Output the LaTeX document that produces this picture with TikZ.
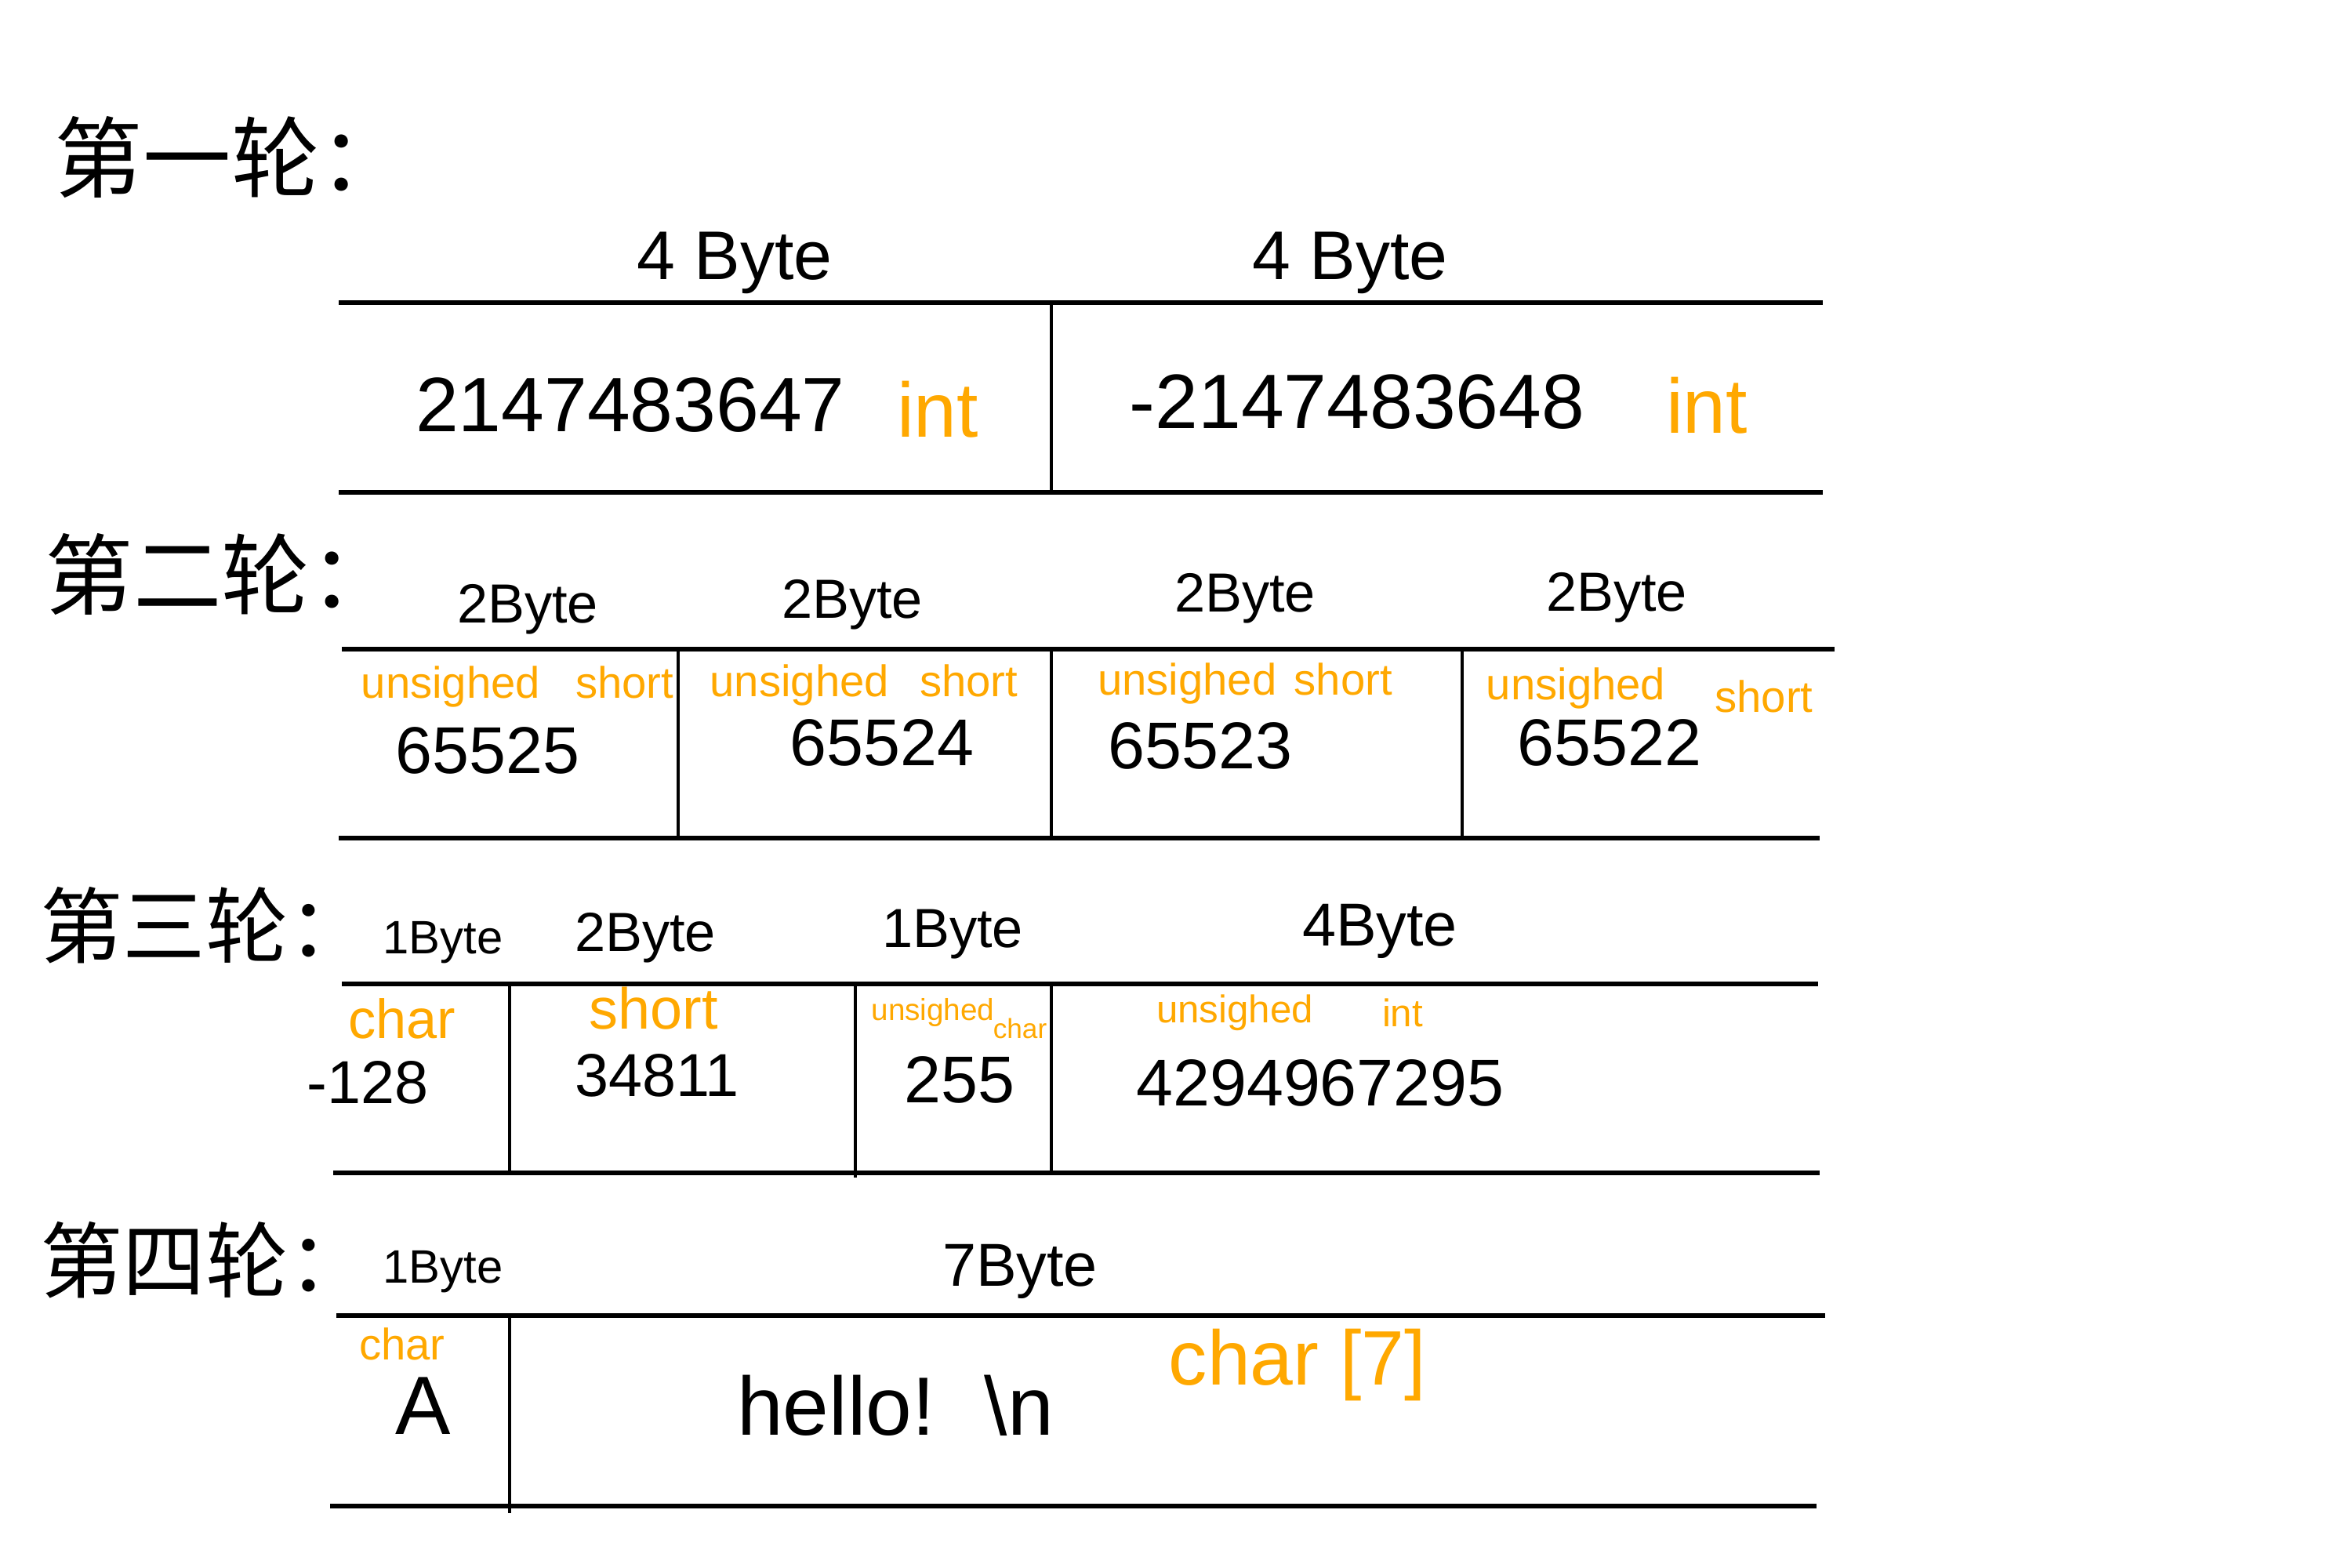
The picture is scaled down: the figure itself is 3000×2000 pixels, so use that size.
\documentclass[tikz,border=0pt]{standalone}
\usepackage{fontspec}
\setmainfont{Liberation Sans}
\newfontfamily\cjk{Noto Sans CJK SC}
\definecolor{handorange}{RGB}{255,168,0}
\tikzset{
  hline/.style={line width=1.8pt, black},
  vline/.style={line width=1pt, black},
  title/.style={font=\cjk\fontsize{32}{32}\selectfont, anchor=center},
  hdr/.style={font=\fontsize{20}{20}\selectfont},
  val/.style={font=\fontsize{24}{24}\selectfont},
  typ/.style={text=handorange, font=\fontsize{16}{16}\selectfont},
}
\begin{document}
\begin{tikzpicture}[x=0.01cm, y=-0.01cm, inner sep=0pt]
\useasboundingbox (0,0) rectangle (3000,2000);
\fill[white] (0,0) rectangle (3000,2000);

% ---------- Round 1 ----------
\node[title] (t1) at (295,201) {第一轮：};
\draw[hline] (432,386) -- (2325,386);
\draw[hline] (432,628) -- (2325,628);
\draw[vline] (1341,386) -- (1341,628);
\node[hdr, font=\fontsize{25}{25}\selectfont] (h11) at (937,335) {4 Byte};
\node[hdr, font=\fontsize{25}{25}\selectfont] (h12) at (1722,335) {4 Byte};
\node[val, font=\fontsize{28}{28}\selectfont] (v11) at (804,517) {2147483647};
\node[typ, font=\fontsize{28}{28}\selectfont] (y11) at (1196,522) {int};
\node[val, font=\fontsize{28}{28}\selectfont] (v12) at (1731,513) {-2147483648};
\node[typ, font=\fontsize{28}{28}\selectfont] (y12) at (2177,517) {int};

% ---------- Round 2 ----------
\node[title] (t2) at (283,733) {第二轮：};
\draw[hline] (436,828) -- (2340,828);
\draw[hline] (432,1069) -- (2321,1069);
\draw[vline] (865,828) -- (865,1069);
\draw[vline] (1341,828) -- (1341,1069);
\draw[vline] (1865,828) -- (1865,1072);
\node[hdr] (h21) at (673,777) {2Byte};
\node[hdr] (h22) at (1087,771) {2Byte};
\node[hdr] (h23) at (1588,763) {2Byte};
\node[hdr] (h24) at (2062,762) {2Byte};
\node[typ] (y21) at (660,876) {unsighed\hspace{0.8em}short};
\node[typ] (y22) at (1102,874) {unsighed\hspace{0.7em}short};
\node[typ] (y23) at (1588,872) {unsighed\hspace{0.4em}short};
\node[typ] (y24) at (2010,878) {unsighed};
\node[typ] (y24b) at (2250,888) {short};
\node[val] (v21) at (622,957) {65525};
\node[val] (v22) at (1125,947) {65524};
\node[val] (v23) at (1531,951) {65523};
\node[val] (v24) at (2053,947) {65522};

% ---------- Round 3 ----------
\node[title, font=\cjk\fontsize{30}{30}\selectfont] (t3) at (262,1180) {第三轮：};
\draw[hline] (436,1255) -- (2319,1255);
\draw[hline] (425,1496) -- (2321,1496);
\draw[vline] (650,1255) -- (650,1496);
\draw[vline] (1091,1255) -- (1091,1502);
\draw[vline] (1341,1255) -- (1341,1496);
\node[hdr, font=\fontsize{17}{17}\selectfont] (h31) at (565,1202) {1Byte};
\node[hdr] (h32) at (823,1196) {2Byte};
\node[hdr] (h33) at (1215,1192) {1Byte};
\node[hdr, font=\fontsize{22}{22}\selectfont] (h34) at (1760,1188) {4Byte};
\node[typ, font=\fontsize{20}{20}\selectfont] (y31) at (513,1299) {char};
\node[val, font=\fontsize{22}{22}\selectfont] (v31) at (469,1381) {-128};
\node[typ, font=\fontsize{21}{21}\selectfont] (y32) at (834,1286) {short};
\node[val, font=\fontsize{22}{22}\selectfont] (v32) at (838,1372) {34811};
\node[typ, font=\fontsize{11}{11}\selectfont] (y33) at (1190,1291) {unsighed};
\node[typ, font=\fontsize{10}{10}\selectfont] (y33b) at (1301,1312) {char};
\node[val] (v33) at (1224,1377) {255};
\node[typ, font=\fontsize{14}{14}\selectfont] (y34) at (1575,1292) {unsighed};
\node[typ, font=\fontsize{14}{14}\selectfont] (y34b) at (1789,1292) {int};
\node[val] (v34) at (1684,1381) {4294967295};

% ---------- Round 4 ----------
\node[title, font=\cjk\fontsize{30}{30}\selectfont] (t4) at (262,1607) {第四轮：};
\draw[hline] (429,1678) -- (2328,1678);
\draw[hline] (421,1921) -- (2317,1921);
\draw[vline] (650,1678) -- (650,1930);
\node[hdr, font=\fontsize{17}{17}\selectfont] (h41) at (565,1622) {1Byte};
\node[hdr, font=\fontsize{22}{22}\selectfont] (h42) at (1301,1622) {7Byte};
\node[typ, font=\fontsize{16}{16}\selectfont] (y41) at (513,1714) {char};
\node[val, font=\fontsize{30}{30}\selectfont] (v41) at (540,1793) {A};
\node[val, font=\fontsize{30}{30}\selectfont] (v42) at (1142,1793) {hello!\hspace{0.6em}\textbackslash n};
\node[typ, font=\fontsize{28}{28}\selectfont] (y42) at (1655,1741) {char [7]};
\end{tikzpicture}
\end{document}
